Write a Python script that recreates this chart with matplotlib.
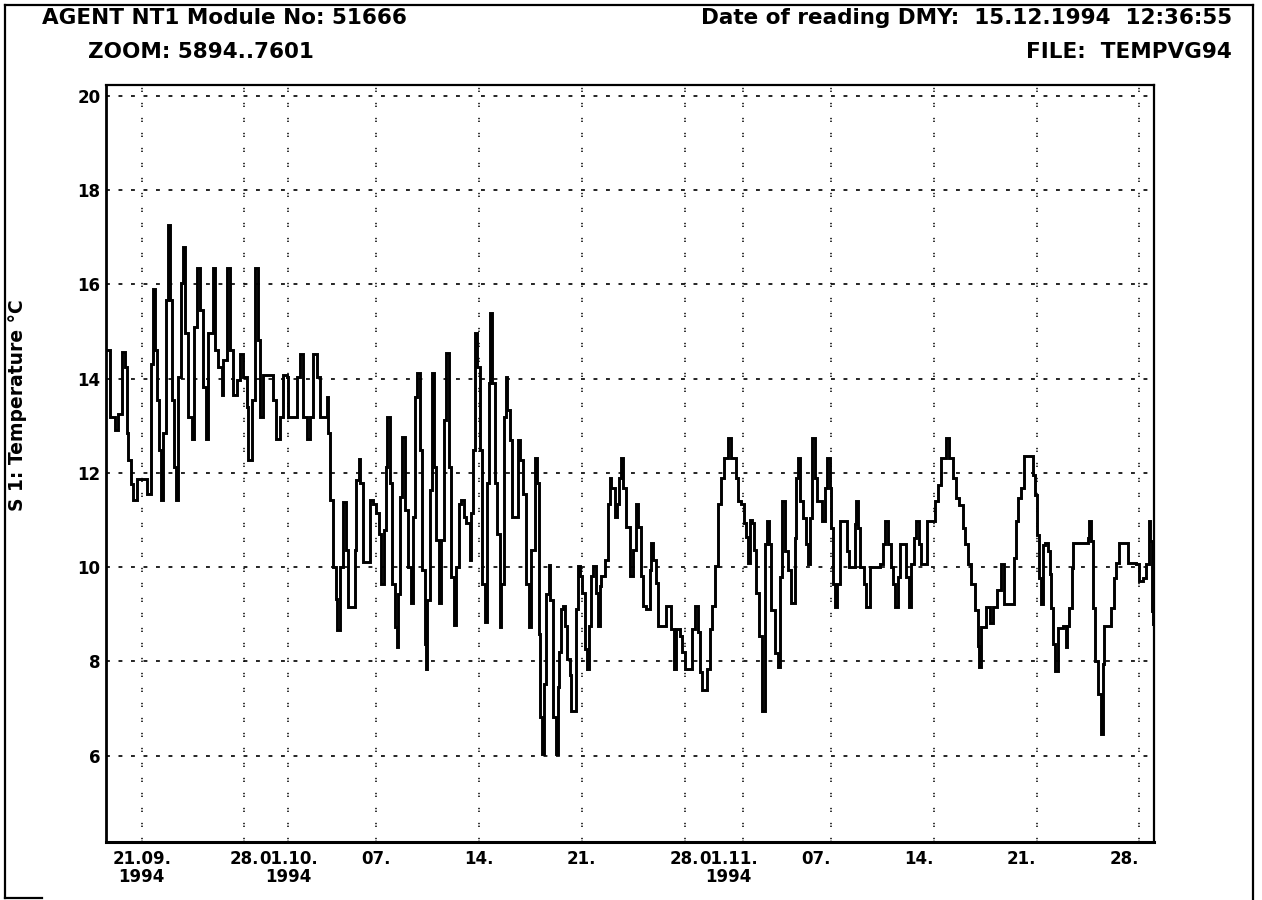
import matplotlib
matplotlib.use("Agg")
import matplotlib.pyplot as plt
import matplotlib.transforms as mtransforms
from matplotlib.lines import Line2D
import pandas as pd

plt.rcParams["font.family"] = ["DejaVu Sans"]
plt.rcParams["font.weight"] = "bold"
plt.rcParams["lines.scale_dashes"] = False

# ---- data: day number counted from 31 Aug 1994 (so 21.0 = 21.09.1994 00:00) ----
origin = pd.Timestamp("1994-08-31")

day = [
    18.61, 18.84, 19.18, 19.41, 19.64, 19.86, 19.98, 20.09, 20.25, 20.39, 20.61, 20.70,
    21.23, 21.34, 21.50, 21.61, 21.75, 21.91, 22.07, 22.20, 22.32, 22.47, 22.63, 22.81,
    22.93, 23.09, 23.22, 23.34, 23.50, 23.66, 23.79, 23.95, 24.18, 24.40, 24.59, 24.79,
    24.97, 25.20, 25.38, 25.54, 25.83, 25.99, 26.22, 26.45, 26.56, 26.79, 27.02, 27.24,
    27.47, 27.70, 27.92, 28.15, 28.26, 28.49, 28.72, 28.95, 29.06, 29.29, 29.74, 29.97,
    30.19, 30.42, 30.65, 30.88, 30.99, 31.33, 31.56, 31.78, 32.01, 32.24, 32.47, 32.65,
    32.92, 33.15, 33.49, 33.60, 33.71, 33.83, 34.06, 34.24, 34.33, 34.51, 34.74, 34.96,
    35.08, 35.42, 35.53, 35.64, 35.83,
    35.91, 36.09, 36.32, 36.55, 36.78, 37.00, 37.18, 37.34, 37.50, 37.64, 37.73, 37.91,
    38.09, 38.25, 38.41, 38.50, 38.59, 38.75, 38.93, 39.16, 39.34, 39.50, 39.66, 39.77,
    39.95, 40.14, 40.29, 40.36, 40.48, 40.64, 40.77, 40.91, 41.09, 41.27, 41.43, 41.61,
    41.77, 41.93, 42.11, 42.27, 42.45, 42.63, 42.79, 42.95, 43.13, 43.36, 43.47, 43.59,
    43.72, 43.86, 44.04, 44.22, 44.38, 44.54, 44.65, 44.77, 44.90, 45.06, 45.22, 45.40,
    45.52, 45.68, 45.81, 45.93, 46.09, 46.22, 46.49, 46.65, 46.77, 46.99, 47.22, 47.40,
    47.56, 47.79, 47.95, 48.08, 48.17, 48.26, 48.42, 48.58, 48.74, 48.86, 49.04, 49.22,
    49.38,
    49.45, 49.61, 49.72, 49.83, 49.99, 50.17, 50.29, 50.45, 50.58, 50.74, 50.86, 51.04,
    51.20, 51.36, 51.49, 51.65, 51.76, 51.99, 52.10, 52.22, 52.33, 52.56, 52.79, 52.90,
    53.01, 53.24, 53.40, 53.54, 53.65, 53.81, 54.03, 54.26, 54.49, 54.67, 54.83, 55.01,
    55.17, 55.40, 55.62, 55.74, 55.85, 56.03, 56.19, 56.53, 56.71, 56.99, 57.10, 57.26,
    57.44, 57.67, 57.85, 58.03, 58.35, 58.53, 58.74, 58.92, 59.08, 59.21, 59.39, 59.53,
    59.71, 59.89, 60.05, 60.28, 60.51, 60.67, 60.96, 61.19, 61.48, 61.64, 61.87, 62.03,
    62.21, 62.32, 62.48, 62.62, 62.71, 62.89, 63.07, 63.25,
    63.46, 63.62, 63.76, 63.91, 64.14, 64.37, 64.53, 64.66, 64.82, 65.05, 65.28, 65.39,
    65.50, 65.62, 65.73, 65.89, 66.07, 66.30, 66.41, 66.53, 66.71, 66.87, 67.03, 67.21,
    67.39, 67.55, 67.71, 67.89, 68.00, 68.12, 68.23, 68.39, 68.57, 68.91, 69.07, 69.21,
    69.36, 69.59, 69.70, 69.82, 69.98, 70.20, 70.34, 70.50, 70.66, 71.30, 71.52, 71.64,
    71.86, 72.09, 72.20, 72.38, 72.54, 72.66, 73.00, 73.11, 73.29, 73.45, 73.61, 73.75,
    73.97, 74.13, 74.36, 74.52, 74.93, 75.04, 75.27, 75.50, 75.84, 76.06, 76.29, 76.52,
    76.74, 76.97, 77.15, 77.31, 77.54, 77.77, 77.99, 78.06, 78.22, 78.56, 78.79, 79.02,
    79.29, 79.58,
    79.81, 80.38, 80.49, 80.61, 80.72, 80.95, 81.17, 81.51, 81.74, 81.92, 82.01, 82.15,
    82.31, 82.42, 82.60, 82.76, 82.88, 82.99, 83.10, 83.22, 83.38, 83.44, 83.78, 83.97,
    84.08, 84.24, 84.42, 84.51, 85.26, 85.49, 85.60, 85.71, 85.83, 86.01, 86.17, 86.40,
    86.51, 86.62, 86.96, 87.08, 87.30, 87.42, 87.64, 88.05, 88.21, 88.55, 88.78, 89.00,
    89.23, 89.46, 89.64, 89.73, 89.87, 89.96,
]

temp = [
    14.60, 13.19, 12.91, 13.26, 14.57, 14.25, 12.84, 12.27, 11.77, 11.42, 11.42, 11.88,
    11.88, 11.56, 11.56, 14.32, 15.91, 14.60, 13.54, 12.48, 11.42, 12.84, 15.67, 17.26,
    15.67, 13.54, 12.13, 11.42, 14.04, 16.02, 16.80, 14.96, 13.19, 12.73, 15.10, 16.34,
    15.45, 13.83, 12.73, 14.96, 16.34, 14.60, 14.25, 13.65, 14.39, 16.34, 14.60, 13.65,
    13.97, 14.53, 14.04, 13.40, 12.27, 13.54, 16.34, 14.82, 13.19, 14.07, 14.07, 13.54,
    12.73, 13.19, 14.07, 14.04, 13.19, 13.19, 14.04, 14.53, 13.19, 12.73, 13.19, 14.53,
    14.04, 13.19, 13.19, 13.61, 12.84, 11.42, 10.01, 9.33, 8.66, 10.01, 11.39, 10.36,
    9.16, 9.16, 10.36, 11.85, 12.30,
    11.78, 10.11, 10.11, 11.42, 11.35, 11.14, 10.71, 9.65, 10.79, 12.13, 13.19, 11.78,
    9.65, 8.73, 8.31, 9.44, 11.49, 12.77, 11.21, 10.01, 9.23, 11.07, 13.62, 14.11,
    12.48, 9.94, 8.38, 7.85, 9.30, 11.63, 14.11, 12.13, 10.57, 9.23, 10.57, 13.12,
    14.54, 12.13, 9.79, 8.77, 10.01, 11.35, 11.42, 11.07, 10.93, 10.15, 11.14, 12.48,
    14.96, 14.25, 12.48, 9.65, 8.84, 11.78, 13.90, 15.39, 13.90, 11.78, 10.71, 8.73,
    9.65, 13.19, 14.04, 13.33, 12.70, 11.07, 11.07, 12.70, 12.27, 11.56, 9.65, 8.73,
    10.36, 12.31, 11.78, 8.59, 6.82, 6.04, 7.53, 9.44, 10.04, 9.30, 6.82, 6.04,
    7.46,
    8.20, 9.11, 9.18, 8.76, 8.06, 7.71, 6.94, 6.94, 9.11, 10.02, 9.81, 9.46,
    8.27, 7.85, 8.76, 9.81, 10.02, 9.46, 8.76, 9.60, 9.81, 10.16, 11.34, 11.90,
    11.69, 11.06, 11.34, 11.90, 12.32, 11.69, 10.86, 9.81, 10.37, 11.34, 10.86, 9.81,
    9.18, 9.11, 9.95, 10.51, 10.16, 9.67, 8.76, 8.76, 9.18, 9.18, 8.69, 7.85,
    8.69, 8.55, 8.20, 7.85, 7.85, 8.69, 9.18, 8.62, 7.78, 7.40, 7.40, 7.85,
    8.69, 9.18, 10.02, 11.34, 11.90, 12.32, 12.74, 12.32, 11.90, 11.41, 11.34, 10.93,
    10.65, 10.09, 11.00, 10.93, 10.37, 9.46, 8.55, 6.95,
    10.49, 10.98, 10.49, 9.09, 8.18, 7.89, 9.79, 11.40, 10.35, 9.93, 9.23, 9.23,
    10.63, 11.89, 12.32, 11.40, 11.05, 10.49, 10.07, 11.05, 12.74, 11.89, 11.40, 11.40,
    10.98, 11.68, 12.32, 11.68, 10.84, 9.65, 9.16, 9.65, 10.98, 10.98, 10.35, 10.00,
    10.00, 10.91, 11.40, 10.84, 10.00, 9.65, 9.16, 9.16, 10.00, 10.07, 10.49, 10.98,
    10.49, 10.00, 9.65, 9.16, 9.79, 10.49, 10.49, 9.79, 9.16, 10.07, 10.63, 10.98,
    10.49, 10.07, 10.07, 10.98, 10.98, 11.40, 11.75, 12.32, 12.74, 12.32, 11.89, 11.47,
    11.33, 10.84, 10.49, 10.07, 9.65, 9.09, 8.32, 7.89, 8.74, 9.16, 8.81, 9.16,
    9.51, 10.07,
    9.21, 9.21, 10.20, 10.97, 11.46, 11.68, 12.35, 12.35, 11.96, 11.54, 10.69, 9.77,
    9.21, 10.48, 10.51, 10.34, 9.85, 9.14, 8.37, 7.80, 7.80, 8.72, 8.75, 8.30,
    8.75, 9.14, 9.99, 10.51, 10.51, 10.62, 10.97, 10.55, 9.14, 8.01, 7.31, 6.46,
    7.94, 8.75, 8.75, 9.14, 9.77, 10.09, 10.51, 10.51, 10.09, 10.09, 10.06, 9.70,
    9.77, 10.06, 10.97, 10.55, 9.07, 8.79,
]

tick_dates = ["1994-09-21", "1994-09-28", "1994-10-01", "1994-10-07", "1994-10-14",
              "1994-10-21", "1994-10-28", "1994-11-01", "1994-11-07", "1994-11-14",
              "1994-11-21", "1994-11-28"]
tick_labels = ["21.09.\n1994", "28.", "01.10.\n1994", "07.", "14.", "21.", "28.",
               "01.11.\n1994", "07.", "14.", "21.", "28."]
y_ticks = [6, 8, 10, 12, 14, 16, 18, 20]

x_start_day, x_end_day = 18.57, 90.0
y_min, y_max = 4.17, 20.23

# ---- figure ----
W, H = 1262, 900
fig = plt.figure(figsize=(W / 100, H / 100), dpi=100)
fig.patch.set_facecolor("white")
ax = fig.add_axes([106 / W, 1 - 842 / H, (1154 - 106) / W, (842 - 85) / H])

x = (origin + pd.to_timedelta(day, unit="D")).to_pydatetime()
ax.plot(x, temp, drawstyle="steps-post", color="black", lw=2.1, solid_joinstyle="miter")

ax.set_xlim(origin + pd.Timedelta(days=x_start_day), origin + pd.Timedelta(days=x_end_day))
ax.set_ylim(y_min, y_max)

ticks = pd.to_datetime(tick_dates).to_pydatetime()
ax.set_xticks(ticks)
ax.set_xticklabels(tick_labels, fontsize=12, fontweight="bold", linespacing=0.95)
ax.set_yticks(y_ticks)
ax.set_yticklabels([str(v) for v in y_ticks], fontsize=12, fontweight="bold")
ax.tick_params(axis="both", length=0)
ax.tick_params(axis="x", pad=6)
ax.tick_params(axis="y", pad=4)

ax.grid(axis="y", color="black", lw=1.2, linestyle=(0, (2.8, 6.2)))
ax.grid(axis="x", color="black", lw=1.1, linestyle=(0, (1.0, 1.0, 1.0, 7.8)))
ax.set_axisbelow(True)

for s in ax.spines.values():
    s.set_linewidth(1.6)
    s.set_color("black")
ax.spines["left"].set_linewidth(2.0)
ax.spines["bottom"].set_linewidth(2.2)

# November labels sit a bit left of their grid lines in the original print-out
nov_shift = mtransforms.ScaledTranslation(-15 / 100, 0, fig.dpi_scale_trans)
for d, lbl in zip(ticks, ax.get_xticklabels()):
    if d.month == 11:
        lbl.set_transform(lbl.get_transform() + nov_shift)

# y-axis title
fig.text(18 / W, 1 - 405 / H, "S 1: Temperature °C", rotation=90, ha="center",
         va="center", fontsize=13.5, fontweight="bold")

# ---- header texts ----
hdr = dict(fontsize=15.5, fontweight="bold", va="center")
fig.text(42 / W, 1 - 18 / H, "AGENT NT1 Module No: 51666", ha="left", **hdr)
fig.text(88 / W, 1 - 52 / H, "ZOOM: 5894..7601", ha="left", **hdr)
fig.text(1232 / W, 1 - 18 / H, "Date of reading DMY:  15.12.1994  12:36:55", ha="right", **hdr)
fig.text(1232 / W, 1 - 52 / H, "FILE:  TEMPVG94", ha="right", **hdr)

# ---- outer frame of the print-out ----
frame_kw = dict(transform=fig.transFigure, color="black", lw=1.6)
fig.add_artist(Line2D([5 / W, 5 / W], [1 - 5 / H, 1 - 898 / H], **frame_kw))
fig.add_artist(Line2D([5 / W, 1253 / W], [1 - 5 / H, 1 - 5 / H], **frame_kw))
fig.add_artist(Line2D([1253 / W, 1253 / W], [1 - 5 / H, 0], **frame_kw))
fig.add_artist(Line2D([5 / W, 42 / W], [1 - 898 / H, 1 - 898 / H], **frame_kw))

fig.savefig("out.png", dpi=100, facecolor="white")
